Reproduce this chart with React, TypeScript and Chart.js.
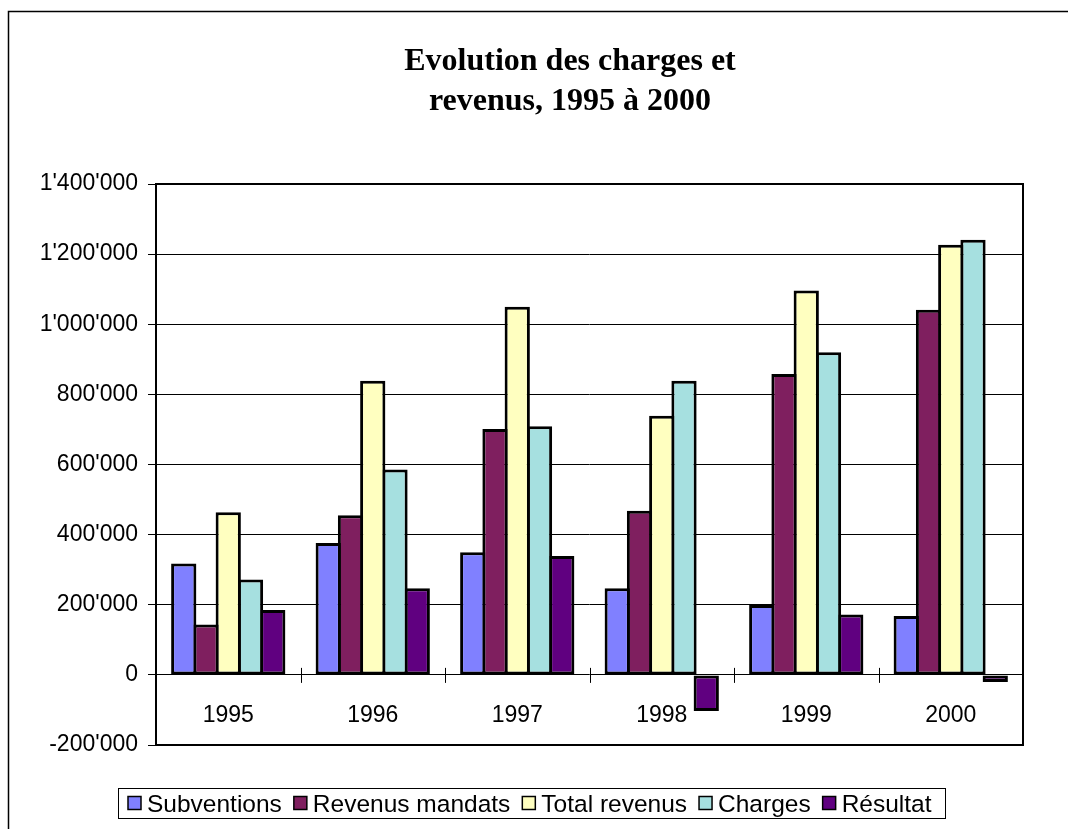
import React, { useEffect, useRef } from 'react';
import { Chart, registerables } from 'chart.js';

Chart.register(...registerables);

const categories = ['1995', '1996', '1997', '1998', '1999', '2000'];
const subventions = [318000, 376000, 350000, 247000, 199000, 168000];
const revenusMandats = [144000, 455000, 701000, 468000, 858000, 1041000];
const totalRevenus = [464000, 839000, 1050000, 739000, 1096000, 1227000];
const charges = [272000, 586000, 709000, 839000, 920000, 1241000];
const resultat = [185000, 247000, 339000, -103000, 172000, -20000];

const seriesNames = ['Subventions', 'Revenus mandats', 'Total revenus', 'Charges', 'Résultat'];
const seriesColors = ['#8080FF', '#7F1F5F', '#FFFFC0', '#A6E0E0', '#600080'];
const seriesValues = [subventions, revenusMandats, totalRevenus, charges, resultat];

const yMin = -200000;
const yMax = 1400000;
const yStep = 200000;

const titleLines = ['Evolution des charges et', 'revenus, 1995 à 2000'];

const AXIS_FONT = { family: '"Liberation Sans", Arial, sans-serif', size: 23 };

function formatNumber(v: number): string {
  const s = Math.abs(Math.round(v)).toString().replace(/\B(?=(\d{3})+(?!\d))/g, "'");
  return v < 0 ? '-' + s : s;
}

const decorPlugin = {
  id: 'decor',
  beforeDraw(chart: any) {
    const ctx = chart.ctx;
    ctx.save();
    ctx.fillStyle = '#ffffff';
    ctx.fillRect(0, 0, chart.width, chart.height);
    ctx.strokeStyle = '#000000';
    ctx.lineWidth = 1.5;
    ctx.beginPath();
    ctx.moveTo(8.5, chart.height);
    ctx.lineTo(8.5, 11.5);
    ctx.lineTo(chart.width, 11.5);
    ctx.stroke();
    ctx.restore();
  },
  afterDraw(chart: any) {
    const ctx = chart.ctx;
    const area = chart.chartArea;
    const xScale = chart.scales.x;
    const yScale = chart.scales.y;
    ctx.save();
    // plot area border
    ctx.strokeStyle = '#000000';
    ctx.lineWidth = 2;
    ctx.strokeRect(area.left, area.top, area.right - area.left, area.bottom - area.top);
    // cross tick marks on the category axis
    const y0 = yScale.getPixelForValue(0);
    ctx.lineWidth = 1;
    ctx.beginPath();
    for (let i = 1; i < categories.length; i++) {
      const xb = Math.round((xScale.getPixelForValue(i - 1) + xScale.getPixelForValue(i)) / 2) + 0.5;
      ctx.moveTo(xb, y0 - 7);
      ctx.lineTo(xb, y0 + 8);
    }
    ctx.stroke();

    // title
    ctx.fillStyle = '#000000';
    ctx.font = 'bold 32px "Liberation Serif", "Times New Roman", serif';
    ctx.textAlign = 'center';
    ctx.textBaseline = 'alphabetic';
    ctx.fillText(titleLines[0], 570, 70);
    ctx.fillText(titleLines[1], 570, 110);

    // legend
    const legFont = '24.5px "Liberation Sans", Arial, sans-serif';
    ctx.font = legFont;
    ctx.textAlign = 'left';
    const sq = 13;
    const cy = 803;
    let x = 128;
    const parts: { x: number; text: string; color: string }[] = [];
    for (let i = 0; i < seriesNames.length; i++) {
      parts.push({ x, text: seriesNames[i], color: seriesColors[i] });
      const w = ctx.measureText(seriesNames[i]).width;
      x += sq + 6 + w + 12;
    }
    const boxRight = x - 12 + 13;
    ctx.lineWidth = 1;
    ctx.strokeStyle = '#000000';
    ctx.strokeRect(118.5, 788.5, Math.round(boxRight) - 118, 30);
    for (const p of parts) {
      ctx.fillStyle = p.color;
      ctx.fillRect(p.x, cy - sq / 2, sq, sq);
      ctx.lineWidth = 1.5;
      ctx.strokeRect(p.x, cy - sq / 2, sq, sq);
      ctx.fillStyle = '#000000';
      ctx.fillText(p.text, p.x + sq + 6, cy + 8.5);
    }
    ctx.restore();
  },
};

export default function App() {
  const canvasRef = useRef<HTMLCanvasElement | null>(null);

  useEffect(() => {
    const canvas = canvasRef.current;
    if (!canvas) return;
    const chart = new Chart(canvas, {
      type: 'bar',
      data: {
        labels: categories,
        datasets: seriesNames.map((name, i) => ({
          label: name,
          data: seriesValues[i],
          backgroundColor: seriesColors[i],
          borderColor: '#000000',
          borderWidth: 3,
          borderSkipped: false,
          categoryPercentage: 0.77,
          barPercentage: 1.135,
        })),
      },
      options: {
        responsive: false,
        animation: false,
        devicePixelRatio: 1,
        layout: { padding: { top: 184, bottom: 84, left: 0, right: 45 } },
        plugins: {
          legend: { display: false },
          title: { display: false },
          tooltip: { enabled: false },
        },
        scales: {
          x: {
            type: 'category',
            position: { y: 0 } as any,
            grid: { display: false, drawTicks: false },
            border: { display: false },
            ticks: { font: AXIS_FONT, color: '#000000', padding: 27, maxRotation: 0 },
          },
          y: {
            min: yMin,
            max: yMax,
            ticks: {
              stepSize: yStep,
              font: AXIS_FONT,
              color: '#000000',
              padding: 10,
              callback: (v: any) => formatNumber(Number(v)),
            },
            grid: { color: '#000000', lineWidth: 1, tickLength: 8, drawTicks: true },
            border: { display: false },
            afterFit: (scale: any) => {
              scale.width = 156;
            },
          },
        },
      },
      plugins: [decorPlugin],
    });
    return () => chart.destroy();
  }, []);

  return (
    <div style={{ position: 'absolute', left: 0, top: 0, width: 1068, height: 829, overflow: 'hidden' }}>
      <canvas ref={canvasRef} width={1068} height={829} style={{ display: 'block', width: 1068, height: 829 }} />
    </div>
  );
}
